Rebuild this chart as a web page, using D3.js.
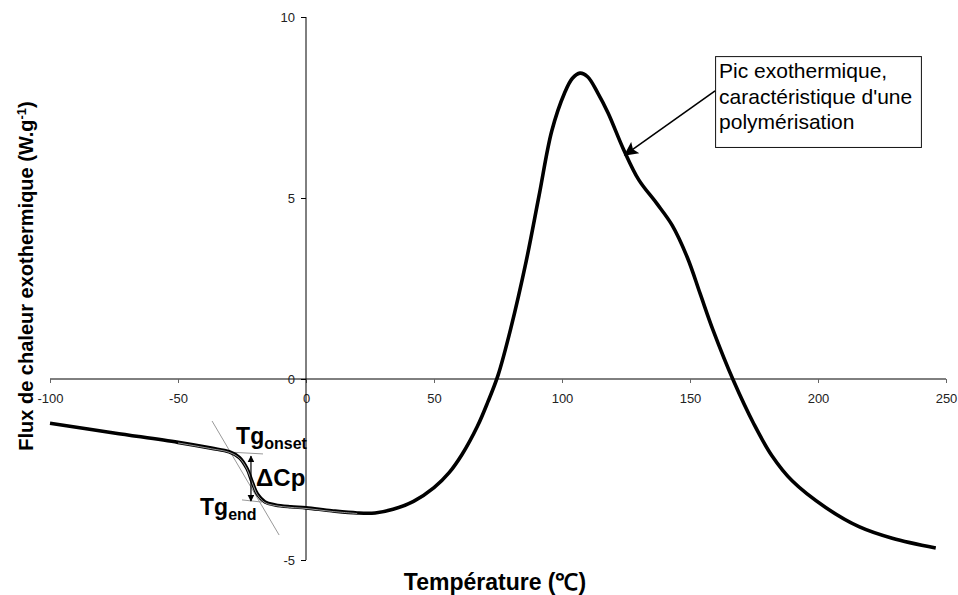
<!DOCTYPE html>
<html><head><meta charset="utf-8">
<script src="https://cdn.jsdelivr.net/npm/d3@7"></script>
<style>
body{margin:0;background:#fff;}
svg{display:block;font-family:"Liberation Sans",Arial,sans-serif;}
</style></head>
<body>
<svg id="c" width="958" height="595"></svg>
<script>
// ---- data ----
const temperature = [-100,-75,-50,-37,-30,-26,-23,-21,-19,-16,-12,-6,0,10,20,27,34,42,50,56,61,67,71,75,80,86,91,96,101,104,107,110,114,118,124,130,137,143,149,154,159,167,175,182,190,203,216,229,246];
const flux        = [-1.22,-1.49,-1.75,-1.91,-2.01,-2.17,-2.48,-2.85,-3.18,-3.40,-3.48,-3.53,-3.56,-3.64,-3.70,-3.70,-3.60,-3.38,-3.00,-2.58,-2.08,-1.30,-0.64,0.10,1.40,3.25,5.05,6.85,7.9,8.3,8.45,8.35,7.9,7.35,6.35,5.5,4.85,4.25,3.35,2.35,1.35,-0.05,-1.25,-2.12,-2.82,-3.55,-4.08,-4.40,-4.67];
const xTicks = [-100,-50,0,50,100,150,200,250];
const yTicks = [-5,0,5,10];
const xDomain = [-100,250];
const yDomain = [-5,10];
// annotation geometry in data units
const steepTangent = [[-36.7,-1.16],[-10.5,-4.31]];
const onsetTangent = [[-29.7,-2.02],[-16.8,-2.07]];
const endTangent   = [[-25,-3.34],[-17.2,-3.40]];
const deltaCpArrow = [[-21.5,-2.13],[-21.5,-3.37]];
const peakArrow    = [[159.8,7.96],[124.6,6.19]];
const noteBox      = [[159.8,8.92],[240.2,6.41]];
const noteLines    = ["Pic exothermique,","caractéristique d'une","polymérisation"];

// ---- layout ----
const svg = d3.select("#c");
const x = d3.scaleLinear().domain(xDomain).range([50,946]);
const y = d3.scaleLinear().domain(yDomain).range([560,17]);

const defs = svg.append("defs");
defs.append("marker").attr("id","ah").attr("viewBox","0 0 10 10").attr("refX",9).attr("refY",5)
  .attr("markerWidth",7).attr("markerHeight",7).attr("markerUnits","userSpaceOnUse").attr("orient","auto-start-reverse")
  .append("path").attr("d","M0,0L10,5L0,10z").attr("fill","#000");
defs.append("marker").attr("id","ah2").attr("viewBox","0 0 10 10").attr("refX",9).attr("refY",5)
  .attr("markerWidth",16).attr("markerHeight",14).attr("markerUnits","userSpaceOnUse").attr("orient","auto")
  .append("path").attr("d","M0,0L10,5L0,10L2,5z").attr("fill","#000");

const fmt = d => String(d);

// x axis at y=0
const xAxis = svg.append("g").attr("transform",`translate(0,${y(0)})`)
  .call(d3.axisBottom(x).tickValues(xTicks).tickSize(4).tickPadding(11).tickFormat(fmt));
xAxis.select(".domain").attr("stroke","#000").attr("d",`M${x(xDomain[0])},0H${x(xDomain[1])}`);
xAxis.selectAll(".tick line").attr("stroke","#666");
xAxis.selectAll("text").attr("font-size","13px").attr("fill","#222").attr("font-family","Liberation Sans, Arial");

// y axis at x=0
const yAxis = svg.append("g").attr("transform",`translate(${x(0)},0)`)
  .call(d3.axisLeft(y).tickValues(yTicks).tickSize(5).tickPadding(6).tickFormat(fmt));
yAxis.select(".domain").attr("stroke","#000").attr("d",`M0,${y(yDomain[0])}V${y(yDomain[1])}`);
yAxis.selectAll(".tick line").attr("stroke","#000");
yAxis.selectAll("text").attr("font-size","13px").attr("fill","#222").attr("font-family","Liberation Sans, Arial");

// tangents
const ln = d3.line().x(d=>x(d[0])).y(d=>y(d[1]));
[steepTangent,onsetTangent,endTangent].forEach(t=>{
  svg.append("path").attr("d",ln(t)).attr("stroke","#999").attr("stroke-width",1).attr("fill","none");
});

// curve
const pts = temperature.map((t,i)=>[t,flux[i]]);
const curve = d3.line().x(d=>x(d[0])).y(d=>y(d[1])).curve(d3.curveCatmullRom.alpha(0.5));
svg.append("path").attr("d",curve(pts)).attr("fill","none").attr("stroke","#000").attr("stroke-width",3.6).attr("stroke-linejoin","round");
// thin highlight stripe in the glass-transition region (double-line look)
const stripe = pts.filter(d=>d[0]>=-60 && d[0]<=20);
svg.append("path").attr("d",curve(stripe)).attr("fill","none").attr("stroke","#fff").attr("stroke-width",0.6)
  .attr("transform","translate(0,0.6)");

// delta Cp double arrow
svg.append("path").attr("d",ln(deltaCpArrow)).attr("stroke","#000").attr("stroke-width",1.2)
  .attr("marker-start","url(#ah)").attr("marker-end","url(#ah)");

// labels
function sublabel(px,py,main,sub){
  const t = svg.append("text").attr("x",px).attr("y",py).attr("font-weight","bold").attr("font-size","23px");
  t.append("tspan").text(main);
  t.append("tspan").attr("dy",5).attr("font-size","16px").text(sub);
}
sublabel(x(-27.3),444,"Tg","onset");
sublabel(x(-41.4),515,"Tg","end");
svg.append("text").attr("x",x(-19.5)).attr("y",486).attr("font-weight","bold").attr("font-size","24px").text("ΔCp");

// annotation box
const bx0=x(noteBox[0][0]), by0=y(noteBox[0][1]), bx1=x(noteBox[1][0]), by1=y(noteBox[1][1]);
svg.append("rect").attr("x",bx0+0.5).attr("y",by0+0.5).attr("width",bx1-bx0).attr("height",by1-by0)
  .attr("fill","#fff").attr("stroke","#111").attr("stroke-width",1);
const nt = svg.append("text").attr("font-size","21px").attr("fill","#000");
noteLines.forEach((s,i)=>nt.append("tspan").attr("x",bx0+4).attr("y",by0+22+i*25.5).text(s));
svg.append("path").attr("d",ln(peakArrow)).attr("stroke","#000").attr("stroke-width",1.6)
  .attr("marker-end","url(#ah2)");

// axis titles
svg.append("text").attr("x",495).attr("y",590).attr("text-anchor","middle").attr("font-weight","bold")
  .attr("font-size","23px").text("Température (℃)");
const yt = svg.append("text").attr("transform","translate(33,276) rotate(-90)").attr("text-anchor","middle")
  .attr("font-weight","bold").attr("font-size","20px");
yt.append("tspan").text("Flux de chaleur exothermique (W.g");
yt.append("tspan").attr("dy",-7).attr("font-size","13px").text("-1");
yt.append("tspan").attr("dy",7).text(")");
</script>
</body></html>
